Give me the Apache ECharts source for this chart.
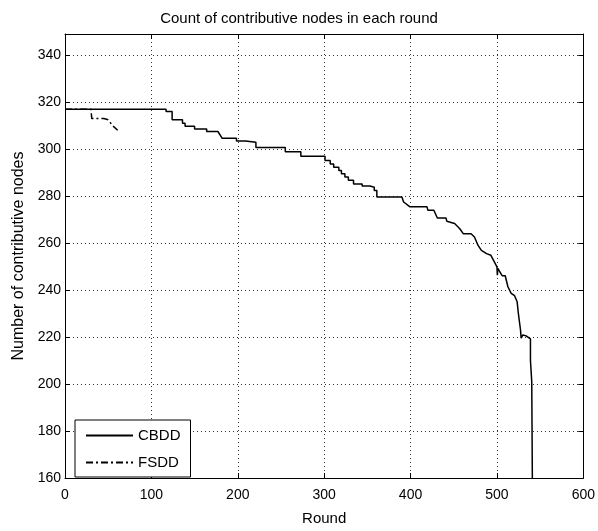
<!DOCTYPE html>
<html>
<head>
<meta charset="utf-8">
<script src="https://cdn.jsdelivr.net/npm/echarts@6/dist/echarts.min.js"></script>
<style>html,body{margin:0;padding:0;background:#fff}#c{width:598px;height:531px}</style>
</head>
<body>
<div id="c"></div>
<script>
const titleText = 'Count of contributive nodes in each round';
const xName = 'Round';
const yName = 'Number of contributive nodes';
const xTicks = [0, 100, 200, 300, 400, 500, 600];
const yTicks = [160, 180, 200, 220, 240, 260, 280, 300, 320, 340];
const seriesNames = ['CBDD', 'FSDD'];
const cbdd = [
  [0,317],[117,317],[117,316],[124,316],[124,312.5],[136,312.5],[136,311],[139,311],[139,309.7],
  [150,309.7],[150,308.6],[164,308.6],[164,307.5],[177,307.5],[182,304.6],[198.5,304.6],[198.5,303.5],
  [209,303.5],[209,302.9],[221,302.9],[221,300.7],[255,300.7],[255,298.9],[273,298.9],[273,297],
  [301,297],[301,295.1],[307,295.1],[307,293.7],[311,293.7],[311,292.3],[317,292.3],[317,290.9],
  [320,290.9],[320,289.5],[324,289.5],[324,288.1],[328,288.1],[328,286.7],[334,286.7],[334,285.2],
  [344,285.2],[344,284.3],[353,284.3],[353,283.8],[358,283.8],[358,282.4],[361,282.4],[361,279.6],
  [390,279.6],[392,277.5],[399,275.5],[419,275.5],[420,274],[427,274],[431,270.7],[441,270.7],
  [442,269.3],[451,268.3],[457,266.1],[461,264],[470,264],[474,262.6],[478,259.1],[482,256.9],
  [488,255.5],[493,254.8],[497,252],[500,249.9],[500.5,246.3],[501,249.2],[503,249.2],[506,246.1],
  [509.6,246.1],[512.7,241.4],[516.5,238.6],[520.4,237.6],[523.4,235],[525,229.4],[527.3,223],
  [528,219.5],[530,220.9],[533.8,220.5],[538.8,219.2],[538.8,210],[540.3,201],[541,160]
];
const fsdd = [
  [0,317],[30,317],[31,313],[45,313],[50,312.5],[55,310],[61,308]
];

const font = '"Liberation Sans", Arial, sans-serif';
const chart = echarts.init(document.getElementById('c'), null, {renderer: 'canvas'});
const yMin = yTicks[0], yMax = 349;
const axisCommon = {
  axisLine: {show: true, onZero: false, lineStyle: {color: '#000', width: 1}},
  axisTick: {show: true, inside: true, length: 5, lineStyle: {color: '#000'}},
};
chart.setOption({
  animation: false,
  backgroundColor: '#fff',
  title: {
    text: titleText, left: 'center', top: 6,
    textStyle: {fontFamily: font, fontSize: 15, fontWeight: 'normal', color: '#000'}
  },
  grid: {left: 65, right: 12, top: 34, bottom: 50, containLabel: false},
  legend: {
    orient: 'vertical', left: 75, top: 420,
    data: seriesNames,
    itemWidth: 47, itemHeight: 14, itemGap: 12,
    padding: [8, 10, 7, 10],
    backgroundColor: '#fff', borderColor: '#000', borderWidth: 1,
    itemStyle: {opacity: 0},
    textStyle: {fontFamily: font, fontSize: 15, color: '#000'}
  },
  xAxis: [{
    type: 'value', min: xTicks[0], max: xTicks[xTicks.length - 1], interval: 100,
    name: xName, nameLocation: 'middle', nameGap: 33,
    nameTextStyle: {fontFamily: font, fontSize: 15, color: '#000'},
    ...axisCommon,
    axisLabel: {fontFamily: font, fontSize: 14, color: '#000', margin: 10},
    splitLine: {show: true, lineStyle: {color: '#333', width: 1, type: [1, 3]}}
  }, {
    type: 'value', position: 'top', min: xTicks[0], max: xTicks[xTicks.length - 1], interval: 100,
    ...axisCommon, axisLabel: {show: false}, splitLine: {show: false}
  }],
  yAxis: [{
    type: 'value', min: yMin, max: yMax, interval: 20,
    name: yName, nameLocation: 'middle', nameGap: 38,
    nameTextStyle: {fontFamily: font, fontSize: 16, color: '#000'},
    ...axisCommon,
    axisLabel: {fontFamily: font, fontSize: 14, color: '#000', margin: 4, showMaxLabel: false,
      formatter: v => (v % 20 === 0 ? String(v) : '')},
    splitLine: {show: true, lineStyle: {color: '#333', width: 1, type: [1, 3]}}
  }, {
    type: 'value', position: 'right', min: yMin, max: yMax, interval: 20,
    ...axisCommon, axisLabel: {show: false}, splitLine: {show: false}
  }],
  series: [{
    name: seriesNames[0], type: 'line', data: cbdd, symbol: 'none',
    xAxisIndex: 0, yAxisIndex: 0,
    lineStyle: {color: '#000', width: 1.5}, itemStyle: {color: '#000'}
  }, {
    name: seriesNames[1], type: 'line', data: fsdd, symbol: 'none',
    xAxisIndex: 0, yAxisIndex: 0,
    lineStyle: {color: '#000', width: 1.5, type: [7, 3, 2, 3]}, itemStyle: {color: '#000'}
  }]
});
</script>
</body>
</html>
